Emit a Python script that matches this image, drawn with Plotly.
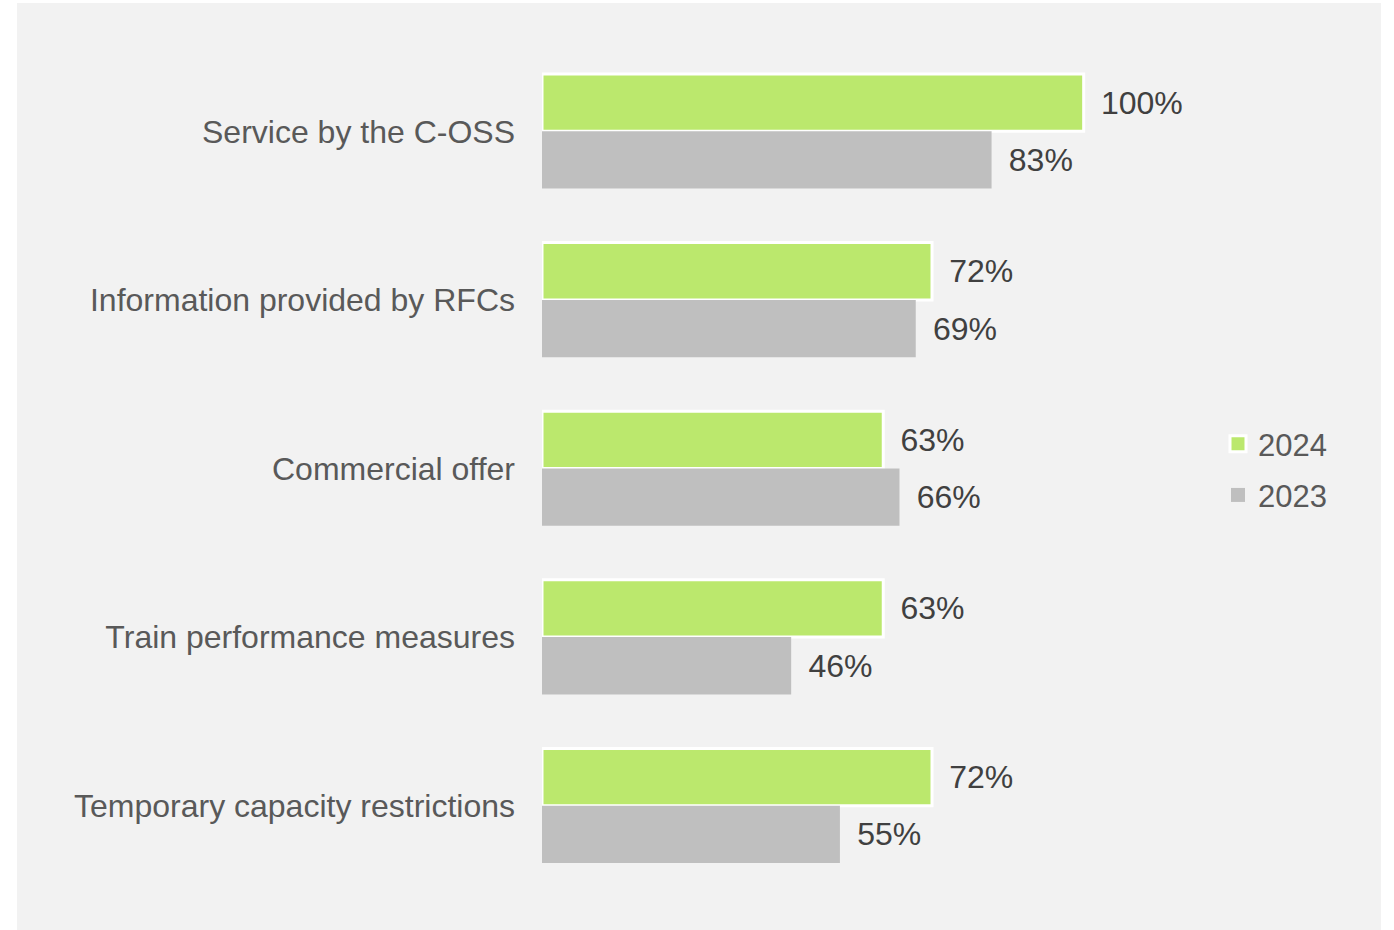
import plotly.graph_objects as go

# Survey topics (top to bottom) and satisfaction shares in percent
categories = [
    "Service by the C-OSS",
    "Information provided by RFCs",
    "Commercial offer",
    "Train performance measures",
    "Temporary capacity restrictions",
]
values_2024 = [100, 72, 63, 63, 72]
values_2023 = [83, 69, 66, 46, 55]
series_names = ["2024", "2023"]

# Canvas and plot area geometry (pixels)
W, H = 1394, 930
M_L, M_R, M_T, M_B = 542, 202, 47, 40
X_MAX = 120
PLOT_W = W - M_L - M_R
PLOT_H = H - M_T - M_B

# Light panel behind the chart, in pixels
PANEL = dict(x0=17, x1=1381, y0=3, y1=930)


def px_to_paper_x(px):
    return (px - M_L) / PLOT_W


def px_to_paper_y(py):
    return (H - M_B - py) / PLOT_H


FONT = "Liberation Sans, Arial, sans-serif"
GREEN = "#BBE86D"
GREY = "#BFBFBF"
LABEL_PAD = "\u00a0\u2006"  # small gap between bar end and value label

fig = go.Figure()
fig.add_trace(go.Bar(
    name=series_names[0],
    y=categories,
    x=values_2024,
    orientation="h",
    marker=dict(color=GREEN, line=dict(color="white", width=3)),
    text=[f"{LABEL_PAD}{v}%" for v in values_2024],
    textposition="outside",
    constraintext="none",
    cliponaxis=False,
    textfont=dict(family=FONT, size=32, color="#404040"),
    showlegend=False,
    hoverinfo="skip",
))
fig.add_trace(go.Bar(
    name=series_names[1],
    y=categories,
    x=values_2023,
    orientation="h",
    marker=dict(color=GREY, line=dict(width=0)),
    text=[f"{LABEL_PAD}{v}%" for v in values_2023],
    textposition="outside",
    constraintext="none",
    cliponaxis=False,
    textfont=dict(family=FONT, size=32, color="#404040"),
    showlegend=False,
    hoverinfo="skip",
))

# Legend entries with square swatches
fig.add_trace(go.Scatter(
    name=series_names[0], x=[None], y=[None], mode="markers",
    marker=dict(symbol="square", size=16, color=GREEN,
                line=dict(color="white", width=3)),
    legendgroup="a",
))
fig.add_trace(go.Scatter(
    name=series_names[1], x=[None], y=[None], mode="markers",
    marker=dict(symbol="square", size=14, color=GREY, line=dict(width=0)),
    legendgroup="b",
))

fig.add_shape(
    type="rect",
    xref="paper", yref="paper",
    x0=px_to_paper_x(PANEL["x0"]), x1=px_to_paper_x(PANEL["x1"]),
    y0=px_to_paper_y(PANEL["y1"]), y1=px_to_paper_y(PANEL["y0"]),
    fillcolor="#F2F2F2", line=dict(width=0), layer="below",
)

fig.update_layout(
    width=W, height=H,
    margin=dict(l=M_L, r=M_R, t=M_T, b=M_B, pad=0),
    paper_bgcolor="white",
    plot_bgcolor="rgba(0,0,0,0)",
    barmode="group",
    bargap=0.32,
    bargroupgap=0,
    font=dict(family=FONT, size=31, color="#595959"),
    showlegend=True,
    legend=dict(
        x=px_to_paper_x(1218), xanchor="left",
        y=px_to_paper_y(469.5), yanchor="middle",
        bgcolor="rgba(0,0,0,0)",
        font=dict(family=FONT, size=31, color="#595959"),
        traceorder="grouped",
        tracegroupgap=8,
    ),
    xaxis=dict(
        range=[0, X_MAX], visible=False, showgrid=False, zeroline=False,
    ),
    yaxis=dict(
        categoryorder="array", categoryarray=categories,
        autorange="reversed",
        showgrid=False, zeroline=False, showline=False,
        ticks="", ticklabelstandoff=26,
        tickfont=dict(family=FONT, size=32, color="#595959"),
    ),
)

fig.write_html("out.html")
